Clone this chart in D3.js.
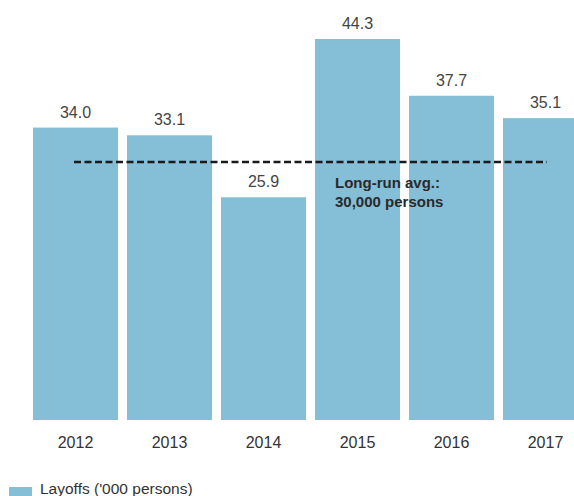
<!DOCTYPE html>
<html>
<head>
<meta charset="utf-8">
<script src="https://cdn.jsdelivr.net/npm/d3@7"></script>
<style>
  body { margin: 0; background: #fff; }
  svg { display: block; font-family: "Liberation Sans", Arial, sans-serif; }
</style>
</head>
<body>
<script>
// Datos del gráfico
const years = ["2012", "2013", "2014", "2015", "2016", "2017"];
const layoffs = [34.0, 33.1, 25.9, 44.3, 37.7, 35.1];
const longRunAvg = 30;
const legendLabel = "Layoffs ('000 persons)";
const avgLabel = ["Long-run avg.:", "30,000 persons"];

const W = 574, H = 496;
const svg = d3.select("body")
  .append("svg")
  .attr("width", W)
  .attr("height", H);

const x = d3.scaleBand()
  .domain(years)
  .range([33 - 4.5, 33 - 4.5 + 94 * years.length])
  .paddingInner(0.095)
  .paddingOuter(0.0475);

const y = d3.scaleLinear()
  .domain([0, 44.3])
  .range([420, 39]);

const color = "#84bed7";

// barras
svg.selectAll("rect.bar")
  .data(years)
  .join("rect")
  .attr("class", "bar")
  .attr("x", d => x(d))
  .attr("y", (d, i) => y(layoffs[i]))
  .attr("width", x.bandwidth())
  .attr("height", (d, i) => y(0) - y(layoffs[i]))
  .attr("fill", color);

// etiquetas de valor
svg.selectAll("text.val")
  .data(years)
  .join("text")
  .attr("class", "val")
  .attr("x", d => x(d) + x.bandwidth() / 2)
  .attr("y", (d, i) => y(layoffs[i]) - 10)
  .attr("text-anchor", "middle")
  .attr("font-size", 16)
  .attr("fill", "#444")
  .text((d, i) => layoffs[i].toFixed(1));

// eje x (solo etiquetas)
const xAxis = svg.append("g")
  .attr("transform", `translate(0, ${y(0)})`)
  .call(d3.axisBottom(x).tickSize(0).tickPadding(17));
xAxis.select(".domain").remove();
xAxis.selectAll("text")
  .attr("font-size", 16)
  .attr("font-family", "Liberation Sans, Arial, sans-serif")
  .attr("fill", "#333");

// línea de promedio
svg.append("line")
  .attr("x1", 74)
  .attr("x2", 547)
  .attr("y1", y(longRunAvg))
  .attr("y2", y(longRunAvg))
  .attr("stroke", "#1a1a1a")
  .attr("stroke-width", 2.5)
  .attr("stroke-dasharray", "7,3.5");

svg.append("text")
  .attr("x", 335)
  .attr("y", y(longRunAvg) + 26)
  .attr("font-size", 15)
  .attr("font-weight", "bold")
  .attr("fill", "#2a2a2a")
  .selectAll("tspan")
  .data(avgLabel)
  .join("tspan")
  .attr("x", 335)
  .attr("dy", (d, i) => i === 0 ? 0 : 19)
  .text(d => d);

// leyenda
svg.append("rect")
  .attr("x", 9)
  .attr("y", 487)
  .attr("width", 23)
  .attr("height", 23)
  .attr("fill", color);

svg.append("text")
  .attr("x", 40)
  .attr("y", 494)
  .attr("font-size", 15.5)
  .attr("fill", "#333")
  .text(legendLabel);
</script>
</body>
</html>
